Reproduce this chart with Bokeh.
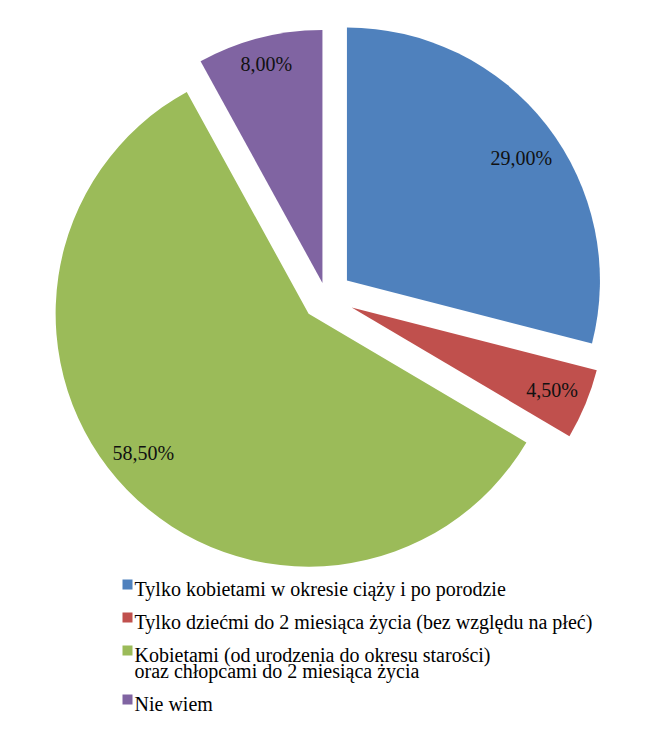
import math
from bokeh.plotting import figure
from bokeh.models import ColumnDataSource, Range1d
from bokeh.core.properties import value
from bokeh.embed import file_html
from bokeh.resources import INLINE

# ---- data ----
categories = [
    "Tylko kobietami w okresie ciąży i po porodzie",
    "Tylko dziećmi do 2 miesiąca życia (bez względu na płeć)",
    "Kobietami (od urodzenia do okresu starości)\noraz chłopcami do 2 miesiąca życia",
    "Nie wiem",
]
values = [29.0, 4.5, 58.5, 8.0]

# ---- styles / layout ----
colors = ["#4F81BD", "#C0504D", "#9BBB59", "#8064A2"]
W, H = 664, 737
CX, CY = 325.5, H - 296.3
R = 253
explode = [26.5, 27.8, 24.2, 14.3]
label_dist = [213, 217, 216, 226]
label_dang = [2.8, 0.0, 4.0, 0.0]   # degrees
FONT = "Liberation Serif"
FS = "20px"

total = sum(values)
xs, ys, starts, ends, lx, ly, ltxt = [], [], [], [], [], [], []
cum = 0.0
for i, v in enumerate(values):
    t1 = cum / total * 2 * math.pi
    t2 = (cum + v) / total * 2 * math.pi
    cum += v
    mid = (t1 + t2) / 2
    ax = CX + explode[i] * math.sin(mid)
    ay = CY + explode[i] * math.cos(mid)
    xs.append(ax)
    ys.append(ay)
    starts.append(math.pi / 2 - t1)
    ends.append(math.pi / 2 - t2)
    la = mid + math.radians(label_dang[i])
    lx.append(ax + label_dist[i] * math.sin(la))
    ly.append(ay + label_dist[i] * math.cos(la))
    ltxt.append(f"{v:.2f}".replace(".", ",") + "%")

src = ColumnDataSource(dict(x=xs, y=ys, start=starts, end=ends, color=colors))
lsrc = ColumnDataSource(dict(x=lx, y=ly, text=ltxt))

p = figure(width=W, height=H, x_range=Range1d(0, W), y_range=Range1d(0, H),
           output_backend="svg", toolbar_location=None, min_border=0)
p.axis.visible = False
p.grid.visible = False
p.outline_line_color = None
p.background_fill_color = "white"
p.border_fill_color = "white"

p.wedge(x="x", y="y", radius=R, start_angle="start", end_angle="end",
        direction="clock", fill_color="color", line_color=None, source=src)

p.text(x="x", y="y", text="text", source=lsrc, text_font=value(FONT),
       text_font_size=FS, text_align="center", text_baseline="middle",
       text_color="#111111")

# ---- legend (manual) ----
base = H - 588.5
pitch = 33.0
line_gap = 16.0
sq_x, sq_y, sq_c = [], [], []
tx, ty, tt = [], [], []
for i, cat in enumerate(categories):
    lines = cat.split("\n")
    sq_x.append(127)
    sq_y.append(base + 4.5)
    sq_c.append(colors[i])
    for j, ln in enumerate(lines):
        tx.append(134)
        ty.append(base - j * line_gap)
        tt.append(ln)
    base -= pitch + (len(lines) - 1) * line_gap

p.scatter(x=sq_x, y=sq_y, marker="square", size=10, fill_color=sq_c, line_color=None)
p.text(x=tx, y=ty, text=tt, text_font=value(FONT), text_font_size=FS,
       text_align="left", text_baseline="alphabetic", text_color="black")

open("out.html", "w").write(file_html(p, INLINE))
